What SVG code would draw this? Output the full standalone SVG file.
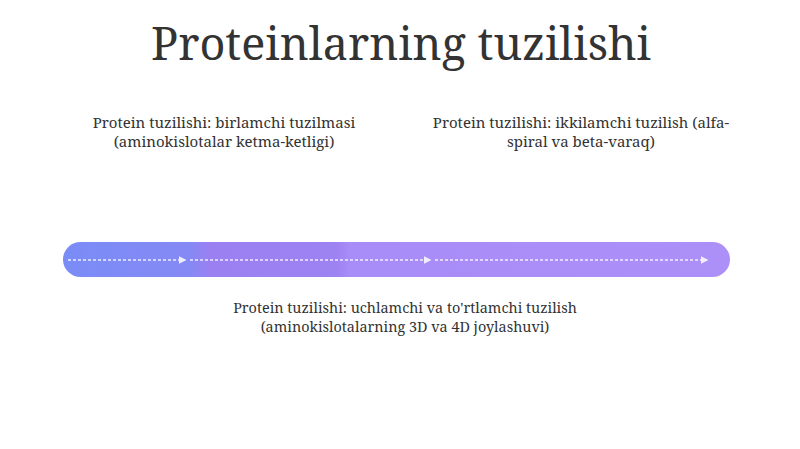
<svg xmlns="http://www.w3.org/2000/svg" width="800" height="449" viewBox="0 0 800 449">
<style>
.t{font-family:"Noto Serif","DejaVu Serif","Liberation Serif",serif;fill:#333;}
.lbl{font-size:15px;text-anchor:middle;}
.sm{font-size:14.4px;}
.flow{stroke:#fff;stroke-width:1.5;stroke-dasharray:3 2;fill:none;opacity:0.85;}
</style>
<defs>
<linearGradient id="g" x1="0" x2="1" y1="0" y2="0">
<stop offset="0" stop-color="#7a8cf6"/>
<stop offset="0.19" stop-color="#8589f5"/>
<stop offset="0.22" stop-color="#9b80f2"/>
<stop offset="0.41" stop-color="#9d82f2"/>
<stop offset="0.43" stop-color="#a88cf7"/>
<stop offset="1" stop-color="#ad8ff8"/>
</linearGradient>
<marker id="a" viewBox="0 0 10 10" refX="8" refY="5" markerWidth="5" markerHeight="5" orient="auto"><path d="M0,0L10,5L0,10z" fill="#fff"/></marker>
</defs>
<rect width="800" height="449" fill="#fff"/>
<text class="t" x="401" y="60" font-size="45" text-anchor="middle">Proteinlarning tuzilishi</text>
<g id="bar"><rect x="63" y="242" width="667" height="35" rx="17.5" fill="url(#g)"/></g>
<g id="connectors">
<line class="flow" x1="68" y1="260" x2="185" y2="260" marker-end="url(#a)"/>
<line class="flow" x1="190" y1="260" x2="430" y2="260" marker-end="url(#a)"/>
<line class="flow" x1="435" y1="260" x2="707" y2="260" marker-end="url(#a)"/>
</g>
<g id="node1"><text class="t lbl" x="224" y="128">Protein tuzilishi: birlamchi tuzilmasi</text><text class="t lbl" x="224" y="147">(aminokislotalar ketma-ketligi)</text></g>
<g id="node2"><text class="t lbl" x="581" y="128">Protein tuzilishi: ikkilamchi tuzilish (alfa-</text><text class="t lbl" x="581" y="147">spiral va beta-varaq)</text></g>
<g id="node3"><text class="t lbl sm" x="405" y="313">Protein tuzilishi: uchlamchi va to'rtlamchi tuzilish</text><text class="t lbl sm" x="405" y="332">(aminokislotalarning 3D va 4D joylashuvi)</text></g>
</svg>
